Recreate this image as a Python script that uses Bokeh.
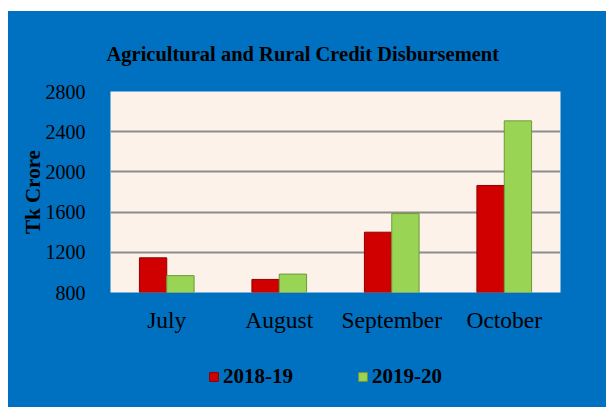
from bokeh.plotting import figure
from bokeh.models import Legend, LegendItem, ColumnDataSource, FactorRange, Title, Spacer, FixedTicker, Range1d
from bokeh.transform import dodge
from bokeh.layouts import column, row
from bokeh.embed import file_html
from bokeh.resources import INLINE

months = ["July", "August", "September", "October"]
fy2018_19 = [1145, 930, 1400, 1865]
fy2019_20 = [968, 983, 1585, 2508]
series_names = ["2018-19", "2019-20"]
y_ticks = [800, 1200, 1600, 2000, 2400, 2800]

BLUE = "#0070C0"
FONT = "Liberation Serif"
RED, RED_EDGE = "#D00000", "#8E0000"
GREEN, GREEN_EDGE = "#99D454", "#6E9A3A"

src = ColumnDataSource(dict(month=months, a=fy2018_19, b=fy2019_20))
xr = FactorRange(*months)

p = figure(x_range=xr, y_range=(800, 2800),
           width=598, height=340, output_backend="svg", toolbar_location=None,
           min_border_left=102, min_border_right=46, min_border_top=80, min_border_bottom=59)

p.background_fill_color = "#FDF2EA"
p.border_fill_color = None
p.outline_line_color = None

bw = 0.243
p.vbar(x=dodge("month", -bw / 2, range=xr), top="a", bottom=800, width=bw,
       source=src, fill_color=RED, line_color=RED_EDGE, line_width=1)
p.vbar(x=dodge("month", bw / 2, range=xr), top="b", bottom=800, width=bw,
       source=src, fill_color=GREEN, line_color=GREEN_EDGE, line_width=1)

# title
t = Title(text="Agricultural and Rural Credit Disbursement", align="left", offset=-4,
          text_font=FONT, text_font_size="20.5px", text_font_style="bold",
          text_color="black", standoff=53)
p.add_layout(t, "above")

# axes
p.yaxis.ticker = FixedTicker(ticks=y_ticks)
p.yaxis.axis_label = "Tk Crore"
p.yaxis.axis_label_text_font = FONT
p.yaxis.axis_label_text_font_size = "21px"
p.yaxis.axis_label_text_font_style = "bold"
p.yaxis.axis_label_text_color = "black"
p.yaxis.axis_label_standoff = -2
p.yaxis.major_label_text_font = FONT
p.yaxis.major_label_text_font_size = "20px"
p.yaxis.major_label_text_color = "black"
p.yaxis.major_label_standoff = 19

p.xaxis.major_label_text_font = FONT
p.xaxis.major_label_text_font_size = "23.5px"
p.xaxis.major_label_text_color = "black"
p.xaxis.major_label_standoff = 8

for ax in (p.xaxis, p.yaxis):
    ax.axis_line_color = None
    ax.major_tick_line_color = None
    ax.minor_tick_line_color = None

p.xgrid.grid_line_color = None
p.ygrid.ticker = FixedTicker(ticks=y_ticks)
p.ygrid.grid_line_color = "#8C8C8C"
p.ygrid.grid_line_width = 2

# legend strip below the chart (same series; its view range lies far above the bars)
lg = figure(width=598, height=56, x_range=xr, y_range=Range1d(10000, 11000),
            output_backend="svg", toolbar_location=None, min_border=0)
lg.axis.visible = False
lg.grid.visible = False
lg.outline_line_color = None
lg.background_fill_color = None
lg.border_fill_color = None
l1 = lg.vbar(x=dodge("month", -bw / 2, range=xr), top="a", bottom=800, width=bw,
             source=src, fill_color=RED, line_color=RED_EDGE)
l2 = lg.vbar(x=dodge("month", bw / 2, range=xr), top="b", bottom=800, width=bw,
             source=src, fill_color=GREEN, line_color=GREEN_EDGE)

legend = Legend(items=[LegendItem(label=series_names[0], renderers=[l1]),
                       LegendItem(label=series_names[1], renderers=[l2])],
                orientation="horizontal", location=(98, 18),
                label_text_font=FONT, label_text_font_size="21px", label_text_font_style="bold",
                label_text_color="black", glyph_width=11, glyph_height=11,
                label_standoff=4, spacing=64, padding=0, margin=0,
                border_line_color=None, background_fill_alpha=0)
lg.add_layout(legend, "center")

chart = column(p, lg, spacing=0, styles={"background-color": BLUE})
layout = row(Spacer(width=8, height=407),
             column(Spacer(height=11, width=598), chart, spacing=0), spacing=0)
open("out.html", "w").write(file_html(layout, INLINE))
